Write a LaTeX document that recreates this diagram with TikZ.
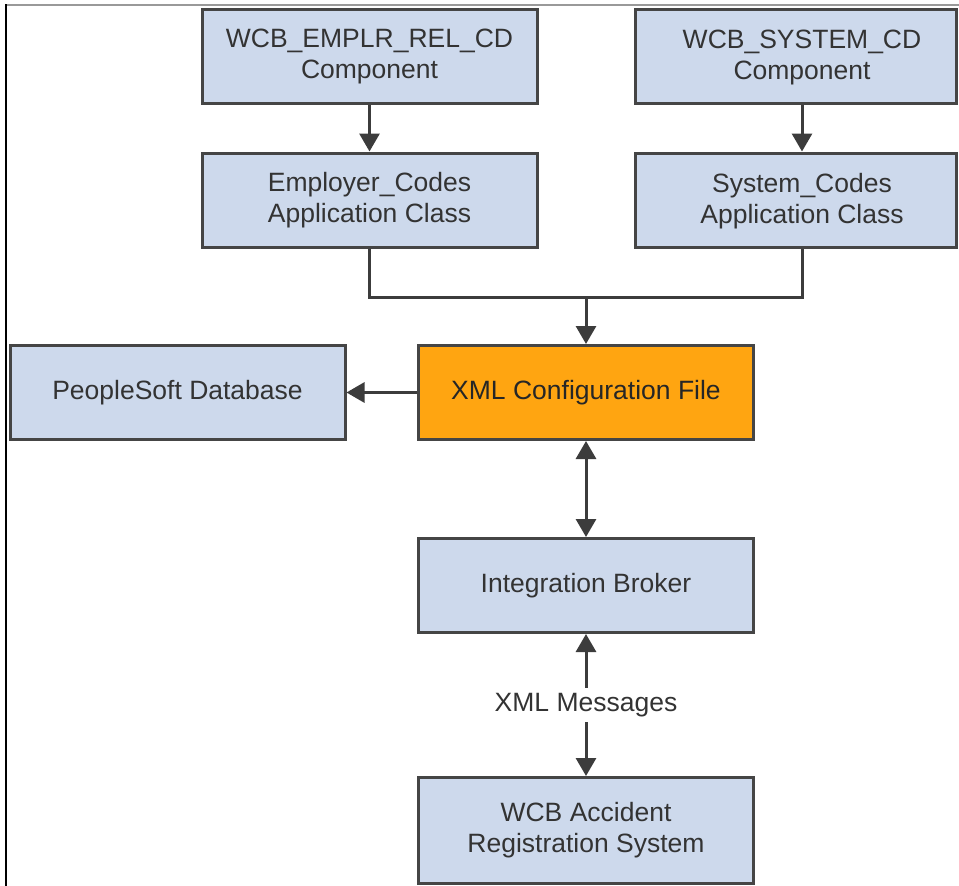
\documentclass[tikz,border=0pt]{standalone}
\usepackage{fontspec}
\setmainfont{Liberation Sans}
\usetikzlibrary{arrows.meta}
\definecolor{boxfill}{HTML}{CDD9EC}
\definecolor{boxline}{HTML}{454545}
\definecolor{connline}{HTML}{3C3C3C}
\definecolor{orangefill}{HTML}{FFA511}
\definecolor{txtcol}{HTML}{333333}
\definecolor{topline}{HTML}{999999}
\begin{document}
\begin{tikzpicture}[x=1pt,y=-1pt,
  box/.style={draw=boxline,line width=3pt,fill=boxfill,minimum width=335pt,minimum height=94pt,inner sep=0pt,align=center,text=txtcol,font=\fontsize{26.5}{31}\selectfont},
  boxtext/.style={inner sep=0pt,align=center,text=txtcol,font=\fontsize{26.5}{31}\selectfont},
  conn/.style={draw=connline,line width=3pt},
  arr/.style={conn,-{Triangle[width=20pt,length=18pt]}},
  darr/.style={conn,{Triangle[width=20pt,length=18pt]}-{Triangle[width=20pt,length=18pt]}},
  lbl/.style={inner sep=0pt,minimum height=34pt,text=txtcol,font=\fontsize{26.5}{31}\selectfont}]
\useasboundingbox (0,0) rectangle (959,886);
\fill[white] (0,0) rectangle (959,886);
% frame lines
\draw[topline,line width=2pt] (6,5) -- (959,5);
\draw[black,line width=2pt] (6,4) -- (6,886);
% boxes
\node[box] (A) at (369.5,56.5) {WCB\_EMPLR\_REL\_CD\\Component};
\node[box,minimum width=321pt] (B) at (795.5,56.5) {};
\node[boxtext] (Bt) at (802,57.5) {WCB\_SYSTEM\_CD\\Component};
\node[box] (C) at (369.5,200) {Employer\_Codes\\Application Class};
\node[box,minimum width=321pt] (D) at (795.5,200) {};
\node[boxtext] (Dt) at (802,201) {System\_Codes\\Application Class};
\node[box,fill=orangefill,text=black!85] (E) at (586,392.5) {XML Configuration File};
\node[box] (F) at (177.5,392.5) {PeopleSoft Database};
\node[box] (G) at (586,585.5) {Integration Broker};
\node[box,minimum height=106pt] (H) at (586,830.5) {WCB Accident\\Registration System};
\node[lbl] (M) at (586,705) {XML Messages};
% connectors
\draw[arr] (A) -- (C);
\draw[arr] (Bt |- B.south) -- (Dt |- D.north);
\draw[conn] (C.south) -- ++(0,49) coordinate (jl) -| (Dt |- D.south);
\draw[arr] (E.north |- jl) -- (E.north);
\draw[arr] (E.west) -- (F.east);
\draw[darr] (E) -- (G);
\draw[arr] (M) -- (G);
\draw[arr] (M) -- (H);
\end{tikzpicture}
\end{document}
